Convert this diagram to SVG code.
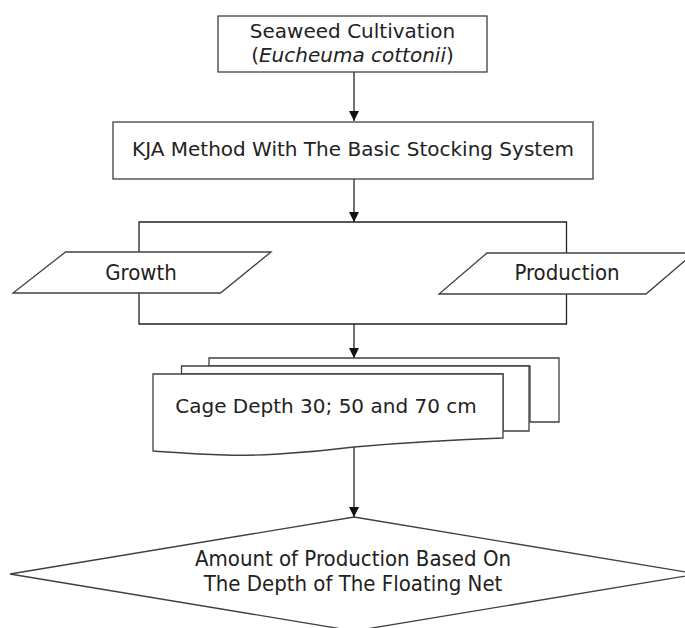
<svg xmlns="http://www.w3.org/2000/svg" width="685" height="628" viewBox="0 0 685 628">
<style>
.s{fill:#fff;stroke:#404040;stroke-width:1.3}
.c{fill:none;stroke:#222;stroke-width:1.3}
.v{font-family:"DejaVu Sans",Verdana,sans-serif;font-size:20px;fill:#222}
.t{font-family:"DejaVu Sans Condensed","DejaVu Sans",sans-serif;font-stretch:condensed;font-size:22px;fill:#222}
</style>
<defs>
<marker id="ah" viewBox="0 0 10 10" refX="10" refY="5" markerWidth="10" markerHeight="10" markerUnits="userSpaceOnUse" orient="auto">
<path d="M0,0 L10,5 L0,10 Z" fill="#111"/>
</marker>
</defs>
<g id="connectors">
<line class="c" x1="354" y1="72" x2="354" y2="121" marker-end="url(#ah)"/>
<line class="c" x1="354" y1="179" x2="354" y2="222" marker-end="url(#ah)"/>
<path class="c" d="M139,252 V222 H566.5 V253 M139,293 V324 H566.5 V294"/>
<line class="c" x1="354" y1="324" x2="354" y2="358" marker-end="url(#ah)"/>
<line class="c" x1="354" y1="446" x2="354" y2="517" marker-end="url(#ah)"/>
</g>
<g id="n1">
<rect class="s" x="218" y="16" width="269" height="56"/>
<text class="v" x="352.5" y="38" text-anchor="middle">Seaweed Cultivation</text>
<text class="v" x="352.5" y="62" text-anchor="middle">(<tspan font-style="italic">Eucheuma cottonii</tspan>)</text>
</g>
<g id="n2">
<rect class="s" x="113" y="122" width="480" height="57"/>
<text class="v" x="353" y="156" text-anchor="middle">KJA Method With The Basic Stocking System</text>
</g>
<g id="n3">
<polygon class="s" points="65.5,252 271,252 220.5,293 13,293"/>
<text class="t" x="141" y="280" text-anchor="middle">Growth</text>
</g>
<g id="n4">
<polygon class="s" points="487,253 694,253 646,294 439,294"/>
<text class="t" x="567" y="280" text-anchor="middle">Production</text>
</g>
<g id="n5">
<path class="s" d="M209,358 H559 V422 H530 V366 H209 Z"/>
<path class="s" d="M181.5,366 H529 V431 H503 V374 H181.5 Z"/>
<path class="s" d="M153,374 H503 V438 C440,440 400,443 354,447 C300,454 250,456 225,455 C190,454 170,452 153,451 Z"/>
<text class="v" x="326" y="413" text-anchor="middle">Cage Depth 30; 50 and 70 cm</text>
</g>
<g id="n6">
<polygon class="s" points="354,517 698,574 354,631 10,574"/>
<text class="t" x="353" y="566" text-anchor="middle">Amount of Production Based On</text>
<text class="t" x="353" y="591" text-anchor="middle">The Depth of The Floating Net</text>
</g>
</svg>
